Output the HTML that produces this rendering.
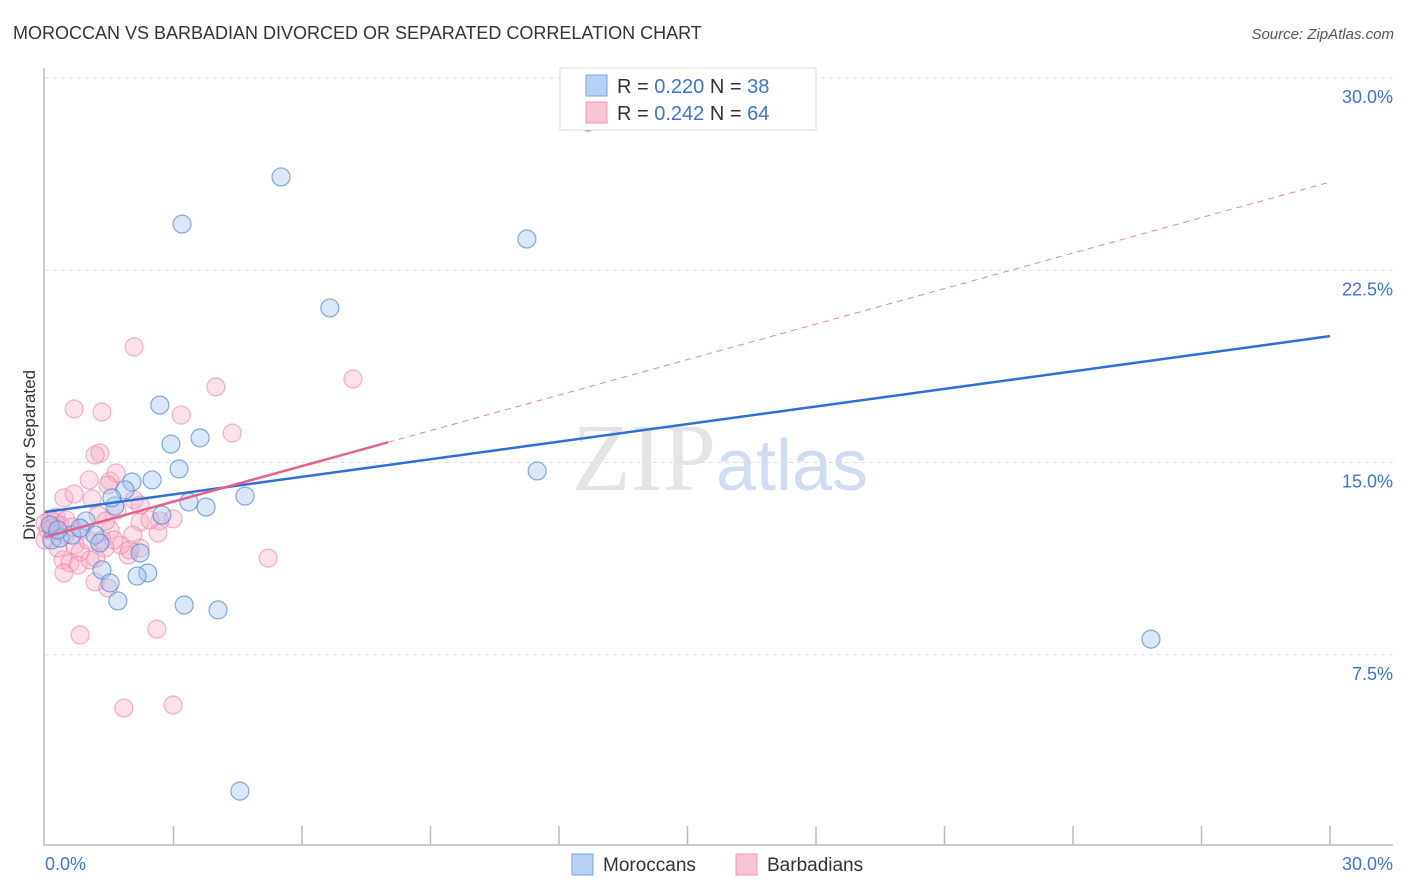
<!DOCTYPE html>
<html><head><meta charset="utf-8"><style>
body{margin:0;background:#fff;font-family:"Liberation Sans",sans-serif;}
svg{display:block}
</style></head><body>
<svg id="chart" width="1406" height="892" xmlns="http://www.w3.org/2000/svg">
<text x="13" y="39" font-size="18" fill="#333">MOROCCAN VS BARBADIAN DIVORCED OR SEPARATED CORRELATION CHART</text>
<text x="1394" y="39" font-size="15" fill="#555" font-style="italic" text-anchor="end">Source: ZipAtlas.com</text>
<text x="35" y="455" font-size="17" fill="#333" text-anchor="middle" transform="rotate(-90 35 455)">Divorced or Separated</text>
<g id="grid"></g>
<g id="axes"></g>
<text x="720" y="490" font-size="96" fill="#e4e4e4" text-anchor="middle" font-family="Liberation Serif,serif">ZIP<tspan fill="#cfdcf2" font-family="Liberation Sans,sans-serif" font-size="72">atlas</tspan></text>
<g id="pts"></g>
<g id="trends"></g>
<g>
<rect x="560" y="68" width="256" height="62" fill="#fff" stroke="#ddd"/>
<rect x="586" y="75" width="21" height="21" fill="#b8d2f5" stroke="#7aa6e6"/>
<rect x="586" y="102" width="21" height="21" fill="#f9c4d4" stroke="#f09ab4"/>
<text x="617" y="93" font-size="20" fill="#333">R = <tspan fill="#3b74d6">0.220</tspan>   N =  <tspan fill="#3b74d6">38</tspan></text>
<text x="617" y="120" font-size="20" fill="#333">R = <tspan fill="#3b74d6">0.242</tspan>   N = <tspan fill="#3b74d6">64</tspan></text>
</g>
<g>
<rect x="572" y="854" width="21" height="21" fill="#b8d2f5" stroke="#7aa6e6"/>
<text x="603" y="871" font-size="19" fill="#333">Moroccans</text>
<rect x="736" y="854" width="21" height="21" fill="#f9c4d4" stroke="#f09ab4"/>
<text x="767" y="871" font-size="19" fill="#333">Barbadians</text>
</g>
</svg>
<script>
const yTicks=[7.5,15,22.5,30];
const yTickLabels=["7.5%","15.0%","22.5%","30.0%"];
const xTickLabels=["0.0%","30.0%"];
const moroccanX=[12.68,5.51,3.20,11.25,6.65,2.68,2.94,3.62,3.13,2.50,2.03,1.87,4.67,3.36,3.76,2.73,1.63,0.96,0.16,0.35,1.17,0.63,1.28,2.22,1.33,2.40,1.52,2.15,1.70,3.25,4.04,11.49,25.82,4.55,0.12,0.30,1.56,0.82];
const moroccanY=[28.28,26.14,24.30,23.72,21.03,17.24,15.72,15.96,14.75,14.32,14.24,13.93,13.69,13.46,13.26,12.95,13.30,12.72,11.98,12.05,12.17,12.17,11.86,11.47,10.81,10.69,10.30,10.57,9.60,9.44,9.25,14.67,8.11,2.18,12.56,12.37,13.62,12.44];
const barbadianX=[2.08,3.99,7.19,0.68,1.33,3.18,4.37,1.28,1.17,1.03,1.52,1.66,1.10,0.44,0.68,1.47,2.08,2.22,1.68,2.99,2.68,2.64,2.22,1.52,0.12,0.23,0.35,0,0.16,0.47,0.70,0.86,1.33,1.40,1.94,2.22,0.82,0.42,0.30,0.58,1.19,0.77,0.44,1.17,1.47,5.21,2.05,1.77,1.98,0.82,2.61,1.84,2.99,0.07,0.26,0.49,0.63,1.00,1.24,1.61,1.05,0,1.42,2.45];
const barbadianY=[19.51,17.95,18.26,17.09,16.97,16.85,16.15,15.37,15.29,14.32,14.28,14.59,13.58,13.62,13.77,14.12,13.54,13.34,13.15,12.80,12.72,12.25,12.68,12.37,12.76,12.68,12.56,12.64,12.44,12.17,11.78,12.37,11.98,11.66,11.39,11.66,11.51,11.20,11.66,11.08,11.27,11.00,10.69,10.34,10.10,11.27,12.17,11.78,11.59,8.27,8.50,5.42,5.54,12.37,12.87,12.76,12.48,11.98,12.95,11.98,11.20,11.98,12.72,12.76];
const moroccanTrend=[13.07,19.93];
const barbadianTrend=[12.09,25.94];
const barbadianSolidEnd=8.01;

const NS="http://www.w3.org/2000/svg";
const X0=45,X1=1330,Y0=847,Y30=78;
const sx=v=>X0+(X1-X0)*v/30;
const sy=v=>Y0-(Y0-Y30)*v/30;
function mk(tag,attrs,parent){const e=document.createElementNS(NS,tag);for(const k in attrs)e.setAttribute(k,attrs[k]);parent.appendChild(e);return e;}
const grid=document.getElementById('grid'),axes=document.getElementById('axes');
yTicks.forEach((t,i)=>{
 const l=mk('line',{x1:X0,x2:1393,y1:sy(t),y2:sy(t),stroke:'#ddd','stroke-dasharray':'4,4'},grid);
 
 
 const tx=mk('text',{x:1393,y:sy(t)+25,'font-size':18,fill:'#3b74d6','text-anchor':'end'},axes);
 tx.textContent=yTickLabels[i];
 
 
});
const ax=mk('path',{d:`M${X0-1},68V845H1393`,stroke:'#bbb',fill:'none','stroke-width':1.5},axes);


for(let i=1;i<=10;i++){
 const tk=mk('line',{x1:sx(i*3),x2:sx(i*3),y1:826,y2:845,stroke:'#bbb','stroke-width':1.5},axes);
 
 
}
[[0,'start',X0],[1,'end',1393]].forEach(([i,a,x])=>{
 const t=mk('text',{x:x,y:870,'font-size':18,fill:'#3b74d6','text-anchor':a},axes);
 t.textContent=xTickLabels[i];
 
 
});
const pts=document.getElementById('pts');
barbadianX.forEach((x,i)=>{
 const c=mk('circle',{cx:sx(x),cy:sy(barbadianY[i]),r:9,fill:'rgba(246,170,195,0.35)',stroke:'rgba(235,130,165,0.6)','stroke-width':1.2},pts);
 
 
});
moroccanX.forEach((x,i)=>{
 const c=mk('circle',{cx:sx(x),cy:sy(moroccanY[i]),r:9,fill:'rgba(160,195,240,0.4)',stroke:'rgba(80,135,215,0.7)','stroke-width':1.2},pts);
 
 
});
const tr=document.getElementById('trends');
const bAt=x=>barbadianTrend[0]+(barbadianTrend[1]-barbadianTrend[0])*x/30;
const d1=mk('line',{x1:sx(barbadianSolidEnd),y1:sy(bAt(barbadianSolidEnd)),x2:sx(30),y2:sy(barbadianTrend[1]),stroke:'#e8849f','stroke-width':1,'stroke-dasharray':'6,5'},tr);


const m=mk('line',{x1:sx(0),y1:sy(moroccanTrend[0]),x2:sx(30),y2:sy(moroccanTrend[1]),stroke:'#2f6fd8','stroke-width':2.5},tr);


const b=mk('line',{x1:sx(0),y1:sy(barbadianTrend[0]),x2:sx(barbadianSolidEnd),y2:sy(bAt(barbadianSolidEnd)),stroke:'#e5608a','stroke-width':2.5},tr);


</script>
</body></html>
